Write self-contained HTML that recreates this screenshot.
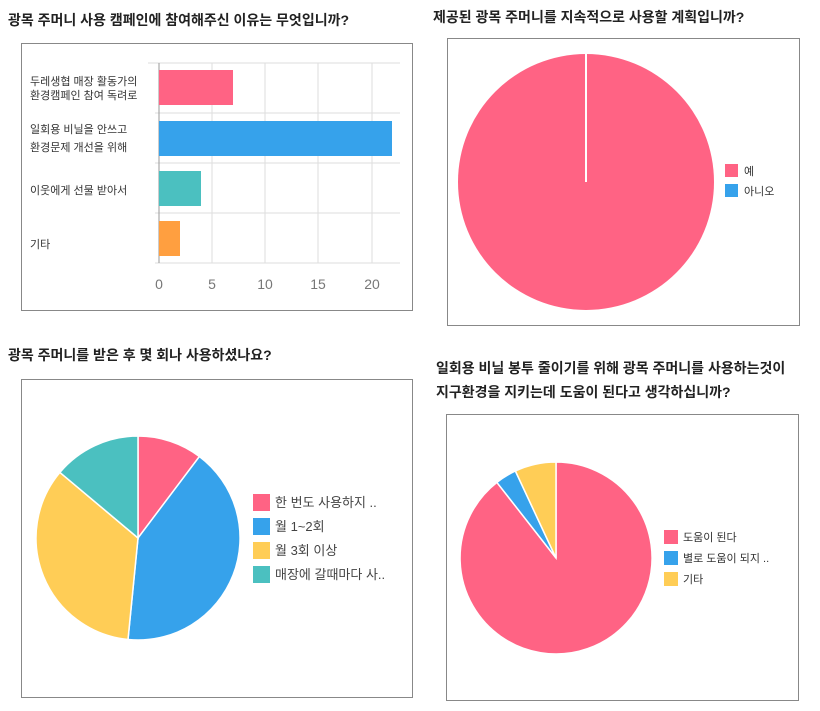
<!DOCTYPE html>
<html><head><meta charset="utf-8"><style>
html,body{margin:0;padding:0;background:#fff;}
svg{display:block;font-family:"Liberation Sans","Noto Sans CJK KR",sans-serif;}
.t{font-size:14px;font-weight:bold;fill:#222;}
.l{font-size:11px;fill:#333;}
.g{font-size:14px;fill:#777;}
</style></head><body>
<svg width="820" height="711" viewBox="0 0 820 711">
<!-- chart 1 -->
<text class="t" x="8" y="25">광목 주머니 사용 캠페인에 참여해주신 이유는 무엇입니까?</text>
<rect x="21.5" y="43.5" width="391" height="267" fill="#fff" stroke="#888"/>
<g stroke="#ddd" stroke-width="1">
<line x1="148" y1="63" x2="400" y2="63"/><line x1="155" y1="113" x2="400" y2="113"/>
<line x1="155" y1="163" x2="400" y2="163"/><line x1="155" y1="213" x2="400" y2="213"/>
<line x1="155" y1="263" x2="400" y2="263"/>
<line x1="212" y1="63" x2="212" y2="263"/><line x1="265" y1="63" x2="265" y2="263"/>
<line x1="318" y1="63" x2="318" y2="263"/><line x1="372" y1="63" x2="372" y2="263"/>
</g>
<line x1="159" y1="63" x2="159" y2="263" stroke="#999"/>
<rect x="159" y="70" width="74" height="35" fill="#ff6384"/>
<rect x="159" y="121" width="233" height="35" fill="#36a2eb"/>
<rect x="159" y="171" width="42" height="35" fill="#4bc0c0"/>
<rect x="159" y="221" width="21" height="35" fill="#ff9f40"/>
<text class="l" x="30" y="85">두레생협 매장 활동가의</text>
<text class="l" x="30" y="99">환경캠페인 참여 독려로</text>
<text class="l" x="30" y="133">일회용 비닐을 안쓰고</text>
<text class="l" x="30" y="151">환경문제 개선을 위해</text>
<text class="l" x="30" y="194">이웃에게 선물 받아서</text>
<text class="l" x="30" y="248">기타</text>
<g text-anchor="middle">
<text x="159" y="289" class="g">0</text><text x="212" y="289" class="g">5</text>
<text x="265" y="289" class="g">10</text><text x="318" y="289" class="g">15</text><text x="372" y="289" class="g">20</text>
</g>
<!-- chart 2 -->
<text class="t" x="433" y="22">제공된 광목 주머니를 지속적으로 사용할 계획입니까?</text>
<rect x="447.5" y="38.5" width="352" height="287" fill="#fff" stroke="#888"/>
<circle cx="586" cy="182" r="128" fill="#ff6384"/>
<line x1="586" y1="54" x2="586" y2="182" stroke="#fff" stroke-width="2"/>
<rect x="725" y="164" width="13" height="13" fill="#ff6384"/>
<rect x="725" y="184" width="13" height="13" fill="#36a2eb"/>
<text class="l" x="744" y="175">예</text>
<text class="l" x="744" y="195">아니오</text>
<!-- chart 3 -->
<text class="t" x="8" y="360">광목 주머니를 받은 후 몇 회나 사용하셨나요?</text>
<rect x="21.5" y="379.5" width="391" height="318" fill="#fff" stroke="#888"/>
<g stroke="#fff" stroke-width="1.5">
<path d="M138,538 L138,436 A102,102 0 0 1 199.4,456.5 Z" fill="#ff6384"/>
<path d="M138,538 L199.4,456.5 A102,102 0 0 1 128,639.5 Z" fill="#36a2eb"/>
<path d="M138,538 L128,639.5 A102,102 0 0 1 59.9,472.4 Z" fill="#ffcd56"/>
<path d="M138,538 L59.9,472.4 A102,102 0 0 1 138,436 Z" fill="#4bc0c0"/>
</g>
<rect x="253" y="494" width="17" height="17" fill="#ff6384"/>
<rect x="253" y="518" width="17" height="17" fill="#36a2eb"/>
<rect x="253" y="542" width="17" height="17" fill="#ffcd56"/>
<rect x="253" y="566" width="17" height="17" fill="#4bc0c0"/>
<g style="font-size:13px" fill="#444">
<text x="275" y="507">한 번도 사용하지 ..</text>
<text x="275" y="531">월 1~2회</text>
<text x="275" y="555">월 3회 이상</text>
<text x="275" y="579">매장에 갈때마다 사..</text>
</g>
<!-- chart 4 -->
<text class="t" x="436" y="373">일회용 비닐 봉투 줄이기를 위해 광목 주머니를 사용하는것이</text>
<text class="t" x="436" y="397">지구환경을 지키는데 도움이 된다고 생각하십니까?</text>
<rect x="446.5" y="414.5" width="352" height="286" fill="#fff" stroke="#888"/>
<g stroke="#fff" stroke-width="1.5">
<path d="M556,558 L556,462 A96,96 0 1 1 496.9,482.4 Z" fill="#ff6384"/>
<path d="M556,558 L496.9,482.4 A96,96 0 0 1 515.4,471 Z" fill="#36a2eb"/>
<path d="M556,558 L515.4,471 A96,96 0 0 1 556,462 Z" fill="#ffcd56"/>
</g>
<rect x="664" y="530" width="14" height="14" fill="#ff6384"/>
<rect x="664" y="551" width="14" height="14" fill="#36a2eb"/>
<rect x="664" y="572" width="14" height="14" fill="#ffcd56"/>
<text class="l" x="683" y="541">도움이 된다</text>
<text class="l" x="683" y="562">별로 도움이 되지 ..</text>
<text class="l" x="683" y="583">기타</text>
</svg>
</body></html>
